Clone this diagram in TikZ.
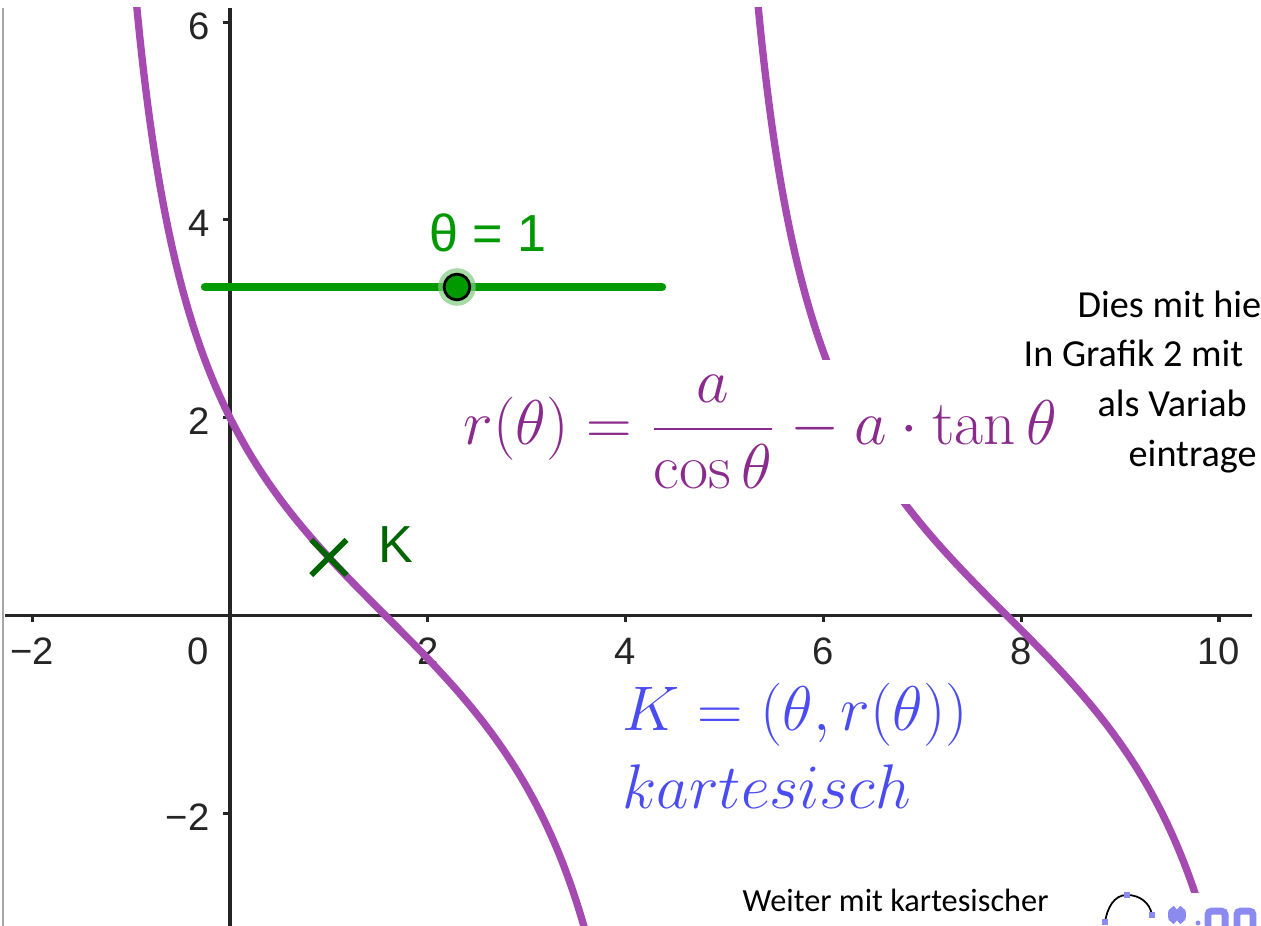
\documentclass[tikz,border=0pt]{standalone}
\usepackage{fontspec}
\usetikzlibrary{shapes.misc}
\newfontfamily\ggbfont{Liberation Sans}
\newfontfamily\notefont{Carlito}
\definecolor{curvepurple}{HTML}{A44AB0}
\definecolor{formulapurple}{HTML}{8A2A8C}
\definecolor{labelblue}{HTML}{4B4BF2}
\definecolor{slidergreen}{HTML}{009900}
\definecolor{pointgreen}{HTML}{006400}
\definecolor{axisgray}{HTML}{252525}
\definecolor{iconblue}{HTML}{8A8AF0}

\begin{document}
\begin{tikzpicture}[
  axis/.style={draw=axisgray,line width=0.9pt},
  ticklabel/.style={font=\ggbfont\fontsize{11}{13}\selectfont,text=axisgray,inner sep=0pt},
  rcurve/.style={draw=curvepurple,line width=2.1pt,smooth,samples=200},
  sliderline/.style={draw=slidergreen,line width=2.4pt,line cap=round},
  sliderpoint/.style={circle,fill=slidergreen,draw=black,line width=0.8pt,minimum size=0.26cm,inner sep=0pt},
  halo/.style={fill=slidergreen!50,opacity=0.7},
  kcross/.style={cross out,draw=pointgreen,line width=1.6pt,minimum size=0.3cm,inner sep=0pt},
  ggblabel/.style={font=\ggbfont\fontsize{15}{18}\selectfont,inner sep=0pt},
  formula/.style={fill=white,inner sep=4pt,scale=1.053,font=\fontsize{17.28}{21}\selectfont},
  bluetext/.style={text=labelblue,inner sep=0pt,anchor=base west,scale=1.05,font=\fontsize{17.28}{21}\selectfont},
  note/.style={font=\notefont\fontsize{11}{13}\selectfont,inner sep=0pt,anchor=base west},
  icon/.style={draw=iconblue,line width=2pt}
]
\useasboundingbox (-2.3256,-3.1396) rectangle (10.4247,6.2235);
\draw[gray!70,line width=0.5pt] (-2.295,6.143) -- (-2.295,-3.1396);
\draw[axis] (-2.275,0) -- (10.334,0);
\draw[axis] (0,6.143) -- (0,-3.1396);
\foreach \x/\t in {-2/−2,2/2,4/4,6/6,8/8,10/10} {
  \draw[axis] (\x,0) -- (\x,-0.07);
  \node[ticklabel] (xl\x) at (\x,-0.364) {\t};
}
\node[ticklabel] (xl0) at (-0.324,-0.364) {0};
\foreach \y/\t in {-2/−2,2/2,4/4,6/6} {
  \draw[axis] (0,\y) -- (-0.07,\y);
  \node[ticklabel,anchor=east] (yl\y) at (-0.202,\y-0.04) {\t};
}

\begin{scope}
\clip (-2.295,-3.2) rectangle (10.334,6.143);
\draw[rcurve] plot[domain=-0.97:3.65] (\x,{2*tan(deg(pi/4-\x/2))});
\draw[rcurve] plot[domain=5.31:9.93] (\x,{2*tan(deg(pi/4-\x/2))});
\end{scope}

\node[formula,text=formulapurple,anchor=base] (rform) at (5.364,1.724) {$\displaystyle r(\theta)=\frac{a}{\cos\theta}-a\cdot\tan\theta$};
\node[bluetext] (kform) at (3.964,-1.16) {$K=(\theta,r(\theta))$};
\node[bluetext] (kart) at (3.964,-1.947) {$kartesisch$};

\coordinate (sliderL) at (-0.253,3.3215);
\coordinate (sliderR) at (4.368,3.3215);
\draw[sliderline] (sliderL) -- (sliderR);
\fill[halo] (2.295,3.3215) circle (0.19);
\node[sliderpoint] (theta) at (2.295,3.3215) {};
\node[ggblabel,text=slidergreen] (thetalabel) at (2.609,3.868) {θ = 1};

\node[kcross] (K) at (1,{2*tan(deg(pi/4-0.5))}) {};
\node[ggblabel,text=pointgreen] (Klabel) at (1.678,0.713) {K};

\node[note] (dies) at (8.564,3.018) {Dies mit hie};
\node[note] (grafik) at (8.018,2.513) {In Grafik 2 mit};
\node[note] (variab) at (8.766,2.007) {als Variab};
\node[note] (eintrage) at (9.080,1.502) {eintrage};
\node[note,font=\notefont\fontsize{9.3}{11}\selectfont] (weiter) at (5.177,-2.998) {Weiter mit kartesischer};

\fill[white] (8.746,-2.806) rectangle (10.4247,-3.1396);
\coordinate (arcA) at (8.847,-3.099);
\coordinate (arcB) at (9.070,-2.826);
\coordinate (arcC) at (9.323,-3.028);
\draw[black,line width=0.5pt] (arcA) to[out=80,in=180] (arcB) to[out=0,in=100] (arcC);
\foreach \c in {arcA,arcB,arcC}
  \fill[iconblue] (\c) +(-0.03,-0.03) rectangle +(0.03,0.03);
\draw[icon] (9.575,-3.028) +(-0.09,0) -- +(0.09,0) +(-0.06,-0.07) -- +(0.06,0.07) +(-0.06,0.07) -- +(0.06,-0.07);
\fill[iconblue] (9.788,-3.109) circle (0.025);
\draw[icon,rounded corners=1pt] (9.889,-2.99) rectangle (10.061,-3.25);
\draw[icon,rounded corners=1pt] (10.182,-2.99) rectangle (10.344,-3.25);
\end{tikzpicture}
\end{document}
